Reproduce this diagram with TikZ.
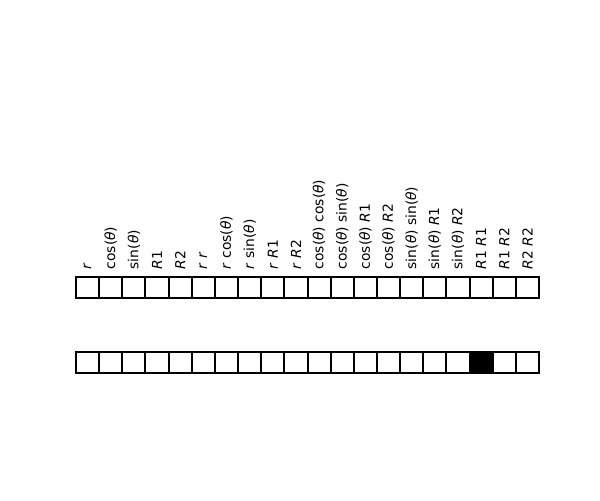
\documentclass[tikz,border=0pt]{standalone}
\usepackage{fontspec}
\setmainfont{DejaVu Sans}
\newdimen\px \px=0.01in
\newcommand\mth[1]{\textit{#1}}
\begin{document}
\begin{tikzpicture}[x=0.01in,y=-0.01in,
  cell/.style={draw=black,line width=2\px,minimum width=23.15\px,minimum height=21.5\px,inner sep=0pt,outer sep=0pt,fill=white},
  onecell/.style={cell,fill=black},
  lab/.style={rotate=90,anchor=west,inner sep=0pt,font=\fontsize{10}{12}\selectfont}]
\useasboundingbox (0,0) rectangle (600,500);
\foreach \i/\t in {0/{\mth{r}},1/{cos(\mth{θ})},2/{sin(\mth{θ})},3/{\mth{R}1},4/{\mth{R}2},
  5/{\mth{r} \mth{r}},6/{\mth{r} cos(\mth{θ})},7/{\mth{r} sin(\mth{θ})},8/{\mth{r} \mth{R}1},9/{\mth{r} \mth{R}2},
  10/{cos(\mth{θ}) cos(\mth{θ})},11/{cos(\mth{θ}) sin(\mth{θ})},12/{cos(\mth{θ}) \mth{R}1},13/{cos(\mth{θ}) \mth{R}2},
  14/{sin(\mth{θ}) sin(\mth{θ})},15/{sin(\mth{θ}) \mth{R}1},16/{sin(\mth{θ}) \mth{R}2},
  17/{\mth{R}1 \mth{R}1},18/{\mth{R}1 \mth{R}2},19/{\mth{R}2 \mth{R}2}}{
  \pgfmathsetmacro\cx{76+23.15*(\i+0.5)}
  \node[cell] (t\i) at (\cx,287.25) {};
  \ifnum\i=17
    \node[onecell] (b\i) at (\cx,362.25) {};
  \else
    \node[cell] (b\i) at (\cx,362.25) {};
  \fi
  \node[lab] (l\i) at (\cx,269.5) {\t};
}
\end{tikzpicture}
\end{document}
